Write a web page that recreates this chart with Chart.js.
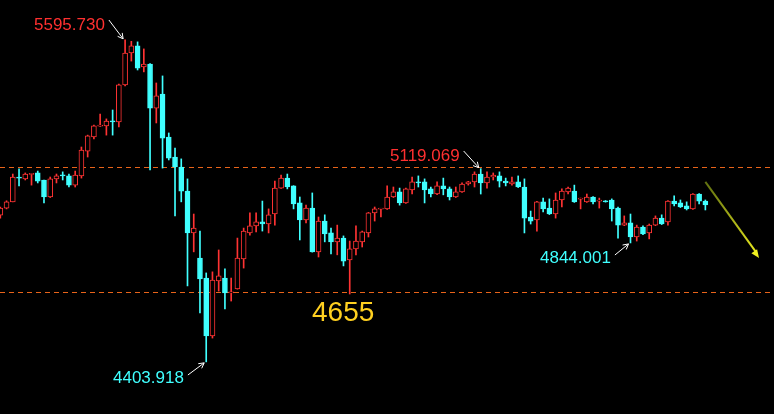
<!DOCTYPE html>
<html><head><meta charset="utf-8">
<script src="https://cdn.jsdelivr.net/npm/chart.js@4/dist/chart.umd.min.js"></script>
<style>html,body{margin:0;padding:0;background:#000;}#w{width:774px;height:414px;}</style>
</head><body><div id="w"><canvas id="c"></canvas></div>
<script>
const opens  = [4947,4973,4996,5084,5081,5098,5103,5077,5014,5081,5092,5092,5058,5092,5184,5236,5276,5277,5292,5292,5429,5547,5573,5495,5506,5343,5395,5236,5162,5125,5036,4881,4788,4714,4500,4703,4714,4659,4674,4785,4881,4907,4922,4914,4951,5047,5084,5055,4992,4929,4973,4811,4925,4881,4848,4862,4781,4822,4848,4881,4955,4969,4970,5014,5033,4992,5040,5066,5070,5044,5025,5055,5044,5014,5033,5062,5070,5099,5066,5088,5092,5073,5062,5070,5051,4940,4929,4996,4973,4951,5003,5033,5036,5006,4996,5014,4999,4999,5003,4973,4910,4918,4866,4903,4881,4910,4936,4922,4999,4992,4981,4970,5025,4999];
const highs  = [4977,5000,5099,5118,5103,5101,5110,5077,5088,5099,5107,5099,5110,5199,5243,5280,5321,5303,5336,5432,5595.73,5590,5588,5562,5508,5436,5462,5251,5195,5155,5081,4951,4888,4733,4737,4818,4748,4714,4862,4899,4955,4955,4999,4970,5073,5095,5099,5056,5014,4984,5029,4940,4948,4899,4910,4870,4851,4907,4888,4957,4977,4971,5055,5051,5047,5047,5088,5092,5081,5051,5070,5084,5051,5051,5066,5072,5107,5119.069,5107,5103,5107,5084,5088,5092,5081,4962,4998,5010,5007,5029,5044,5051,5058,5010,5025,5016,5010,5001,5007,4977,4944,4951,4910,4907,4914,4944,4948,5001,5018,5003,4996,5027,5027,5003];
const lows   = [4936,4970,4996,5055,5077,5058,5066,4992,5012,5066,5077,5051,5051,5084,5162,5229,5275,5243,5243,5273,5425,5517,5484,5477,5114,5288,5121,5151,4944,4996,4685,4811,4585,4403.918,4492,4666,4600,4629,4673,4751,4873,4885,4888,4881,4910,5046,5044,4970,4855,4918,4810,4792,4848,4803,4800,4759,4655,4800,4829,4866,4925,4940,4968,5012,4984,4990,5025,5051,4992,5014,5023,5022,5003,5012,5031,5058,5051,5025,5047,5077,5051,5055,5058,5049,4881,4914,4888,4959,4949,4936,4977,5025,4994,4970,4994,4988,4973,4995,4925,4862,4908,4844.001,4851,4875,4859,4908,4912,4910,4981,4975,4966,4968,4988,4966];
const closes = [4973,4996,5088,5083,5099,5099,5073,5014,5081,5092,5091,5058,5095,5188,5240,5277,5277,5295,5291,5429,5547,5573,5491,5506,5343,5388,5232,5158,5125,5036,4881,4899,4711,4500,4707,4722,4659,4660,4788,4888,4907,4922,4914,4948,5047,5084,5051,4988,4929,4973,4811,4925,4877,4848,4862,4777,4822,4851,4885,4955,4970,4970,5014,5033,4992,5044,5070,5065,5040,5025,5055,5044,5014,5033,5062,5070,5099,5066,5088,5095,5073,5066,5070,5051,4936,4925,4996,4970,4951,5003,5036,5047,4996,5007,5014,4996,5000,4996,4970,4910,4918,4866,4903,4877,4910,4936,4914,4999,4988,4977,4970,5025,4999,4985];
const resistanceLevel = 5125;
const supportLevel = 4663;
const supportLabel = "4655";
const peakLabels = [
  {text:"5595.730", i:21, v:5595.73, color:"#ff3030", tx:34, ty:30, side:"tl"},
  {text:"5119.069", i:78, v:5119.069, color:"#ff3030", tx:390, ty:161, side:"tl"},
  {text:"4844.001", i:102, v:4844.001, color:"#40ffff", tx:540, ty:263, side:"bl"},
  {text:"4403.918", i:34, v:4403.918, color:"#40ffff", tx:113, ty:383, side:"bl"}
];
const trendArrow = {x1:114, v1:5070, x2:122.6, v2:4788};

const UP="#ff3333", DN="#40ffff";
const idx = opens.map((_,i)=>i+1);
const wick = idx.map((x,i)=>({x, y:[lows[i],highs[i]]}));
const body = idx.map((x,i)=>{let a=opens[i],b=closes[i]; if(Math.abs(a-b)<2){b=a+2;} return {x,y:[a,b]};});
const isUp = i=>closes[i]>=opens[i];

const overlay = {
  id:'overlay',
  beforeDatasetsDraw(ch){
    const {ctx,chartArea:a,scales:{x,y}}=ch;
    ctx.save();
    ctx.strokeStyle="#e8641a"; ctx.lineWidth=1; ctx.setLineDash([5,4]);
    [resistanceLevel,supportLevel].forEach(v=>{const py=Math.round(y.getPixelForValue(v))+0.5;ctx.beginPath();ctx.moveTo(a.left,py);ctx.lineTo(a.right,py);ctx.stroke();});
    ctx.restore();
  },
  afterDatasetsDraw(ch){
    const {ctx,scales:{x,y}}=ch;
    ctx.save();
    ctx.font="17px 'Liberation Sans', Arial, sans-serif";
    ctx.textBaseline="alphabetic";
    peakLabels.forEach(p=>{
      ctx.fillStyle=p.color; ctx.fillText(p.text,p.tx,p.ty);
      const w=ctx.measureText(p.text).width;
      const px=x.getPixelForValue(p.i)-2, py=y.getPixelForValue(p.v)+(p.side==="tl"?-1:1);
      const sx=p.tx+w+4, sy=p.side==="tl"? p.ty-10 : p.ty-8;
      ctx.strokeStyle="#fff"; ctx.fillStyle="#fff"; ctx.lineWidth=1;
      ctx.beginPath();ctx.moveTo(sx,sy);ctx.lineTo(px,py);ctx.stroke();
      const ang=Math.atan2(py-sy,px-sx);
      ctx.beginPath();ctx.moveTo(px,py);
      ctx.lineTo(px-6*Math.cos(ang-0.5),py-6*Math.sin(ang-0.5));
      ctx.moveTo(px,py);
      ctx.lineTo(px-6*Math.cos(ang+0.5),py-6*Math.sin(ang+0.5));
      ctx.stroke();
    });
    ctx.font="28px 'Liberation Sans', Arial, sans-serif";
    ctx.fillStyle="#ffd020"; ctx.textBaseline="middle";
    ctx.fillText(supportLabel,312,313);
    const ax1=x.getPixelForValue(trendArrow.x1),ay1=y.getPixelForValue(trendArrow.v1);
    const ax2=x.getPixelForValue(trendArrow.x2),ay2=y.getPixelForValue(trendArrow.v2);
    const g=ctx.createLinearGradient(ax1,ay1,ax2,ay2);
    g.addColorStop(0,"#607010"); g.addColorStop(1,"#f0f020");
    ctx.strokeStyle=g; ctx.fillStyle="#f0f020"; ctx.lineWidth=2;
    ctx.beginPath();ctx.moveTo(ax1,ay1);ctx.lineTo(ax2-3,ay2-6);ctx.stroke();
    const ang=Math.atan2(ay2-ay1,ax2-ax1);
    ctx.beginPath();ctx.moveTo(ax2,ay2);
    ctx.lineTo(ax2-9*Math.cos(ang-0.4),ay2-9*Math.sin(ang-0.4));
    ctx.lineTo(ax2-9*Math.cos(ang+0.4),ay2-9*Math.sin(ang+0.4));
    ctx.closePath();ctx.fill();
    ctx.restore();
  }
};

new Chart(document.getElementById('c'),{
  type:'bar',
  data:{datasets:[
    {label:'wick',data:wick,order:2,barThickness:1,grouped:false,
     backgroundColor:wick.map((_,i)=>isUp(i)?UP:DN),borderWidth:0},
    {label:'body',data:body,order:1,barThickness:5,grouped:false,minBarLength:1,
     backgroundColor:body.map((_,i)=>isUp(i)?"#000":DN),
     borderColor:body.map((_,i)=>isUp(i)?UP:DN),borderWidth:1,borderSkipped:false}
  ]},
  options:{
    responsive:true,maintainAspectRatio:false,animation:false,
    layout:{padding:0},
    plugins:{legend:{display:false},tooltip:{enabled:false}},
    scales:{
      x:{type:'linear',min:0.95,max:125.0,display:false,offset:false},
      y:{min:4211,max:5743,display:false}
    }
  },
  plugins:[overlay]
});
</script></body></html>
